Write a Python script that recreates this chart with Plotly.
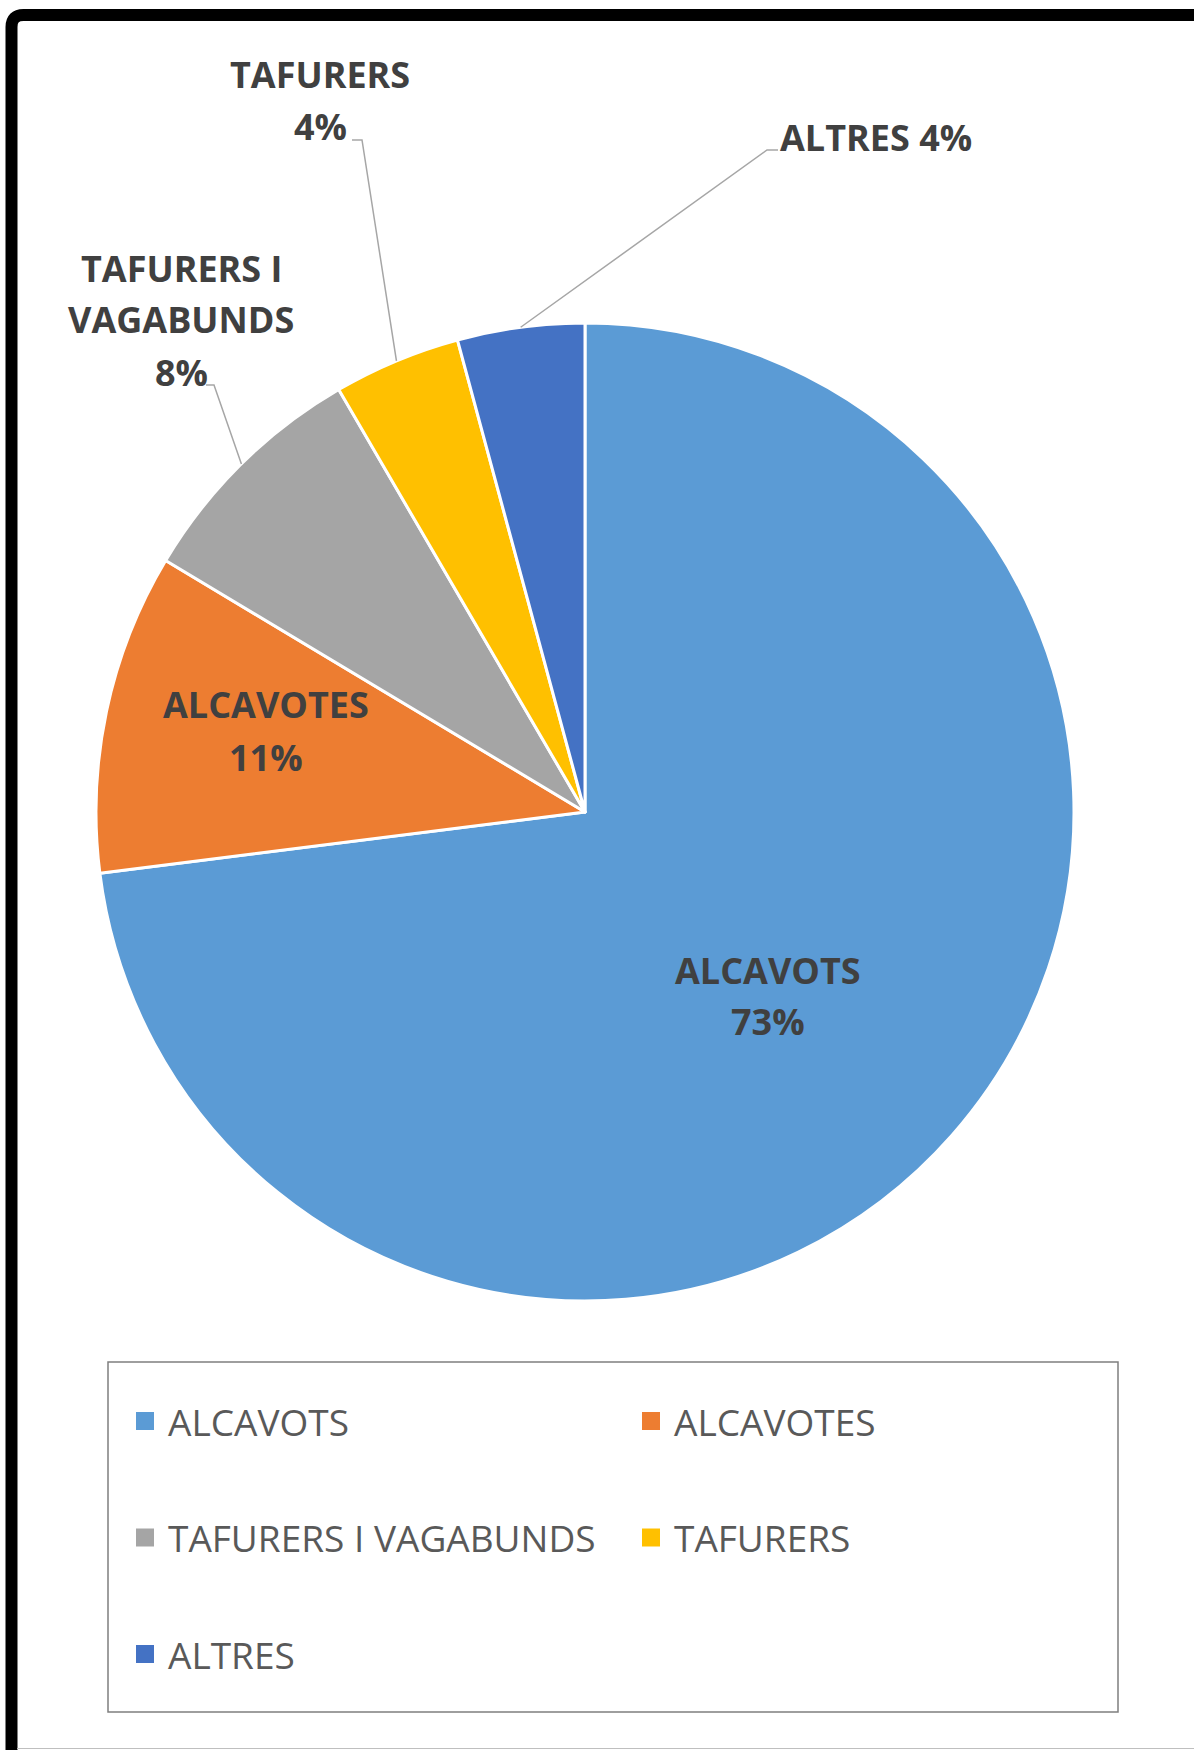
import math
import plotly.graph_objects as go

# ---------------- data ----------------
categories = ["ALCAVOTS", "ALCAVOTES", "TAFURERS I VAGABUNDS", "TAFURERS", "ALTRES"]
values = [73.0, 10.6, 8.0, 4.2, 4.2]
colors = ["#5B9BD5", "#ED7D31", "#A5A5A5", "#FFC000", "#4472C4"]
label_lines = [["ALCAVOTS"], ["ALCAVOTES"], ["TAFURERS I", "VAGABUNDS"], ["TAFURERS"], ["ALTRES"]]
pct_on_same_line = [False, False, False, False, True]

# ---------------- layout constants (pixels) ----------------
W, H = 1194, 1750
CX, CY, R = 585, 812, 489
label_pos = [(768, 996), (266, 731), (181, 320), (320, 101), (876, 138)]
LINE_SP = 52
leader_elbows = {2: [(206, 385), (214, 385)],
                 3: [(352, 140), (362, 140)],
                 4: [(778, 150), (767, 150)]}
FONT = "Open Sans"


def px(x):
    return x / W


def py(y):
    return 1 - y / H


total = sum(values)
pcts = [round(v / total * 100) for v in values]

fig = go.Figure()
fig.add_trace(go.Pie(
    labels=categories,
    values=values,
    sort=False,
    direction="clockwise",
    rotation=0,
    textinfo="none",
    marker=dict(colors=colors, line=dict(color="white", width=3)),
    domain=dict(x=[px(CX - R), px(CX + R)], y=[py(CY + R), py(CY - R)]),
    showlegend=False,
    hovertemplate="%{label}: %{percent}<extra></extra>",
))

annotations = []
shapes = []

# data labels (one annotation per text line for Excel-like line spacing)
for i, name in enumerate(categories):
    x, y = label_pos[i]
    lines = list(label_lines[i])
    if pct_on_same_line[i]:
        lines[-1] = f"{lines[-1]} {pcts[i]}%"
    else:
        lines.append(f"{pcts[i]}%")
    n = len(lines)
    for k, txt in enumerate(lines):
        ly = y + (k - (n - 1) / 2) * LINE_SP
        annotations.append(dict(
            x=px(x), y=py(ly), xref="paper", yref="paper", text=txt,
            showarrow=False, xanchor="center", yanchor="middle", align="center",
            font=dict(family=FONT, size=36, color="#404040", weight="bold"),
        ))

# leader lines: from slice edge (mid angle) to the label elbow
cum = 0.0
for i, v in enumerate(values):
    mid = (cum + v / 2) / total * 2 * math.pi
    cum += v
    if i in leader_elbows:
        ex = CX + R * math.sin(mid)
        ey = CY - R * math.cos(mid)
        (ax, ay), (bx, by) = leader_elbows[i]
        path = f"M {px(ax)},{py(ay)} L {px(bx)},{py(by)} L {px(ex)},{py(ey)}"
        shapes.append(dict(type="path", xref="paper", yref="paper", path=path,
                           line=dict(color="#A6A6A6", width=1.5)))

# legend (manual, built from the category/colour lists)
LEG_X0, LEG_Y0, LEG_X1, LEG_Y1 = 108, 1362, 1118, 1712
shapes.append(dict(type="rect", xref="paper", yref="paper",
                   x0=px(LEG_X0), y0=py(LEG_Y1), x1=px(LEG_X1), y1=py(LEG_Y0),
                   line=dict(color="#7F7F7F", width=1.5), fillcolor="rgba(0,0,0,0)"))
COL_X = [136, 642]
for i, name in enumerate(categories):
    col, row = i % 2, i // 2
    sx = COL_X[col]
    cy = 1421 + row * 116.5
    shapes.append(dict(type="rect", xref="paper", yref="paper",
                       x0=px(sx), x1=px(sx + 18), y0=py(cy + 9), y1=py(cy - 9),
                       fillcolor=colors[i], line=dict(width=0)))
    annotations.append(dict(
        x=px(sx + 30), y=py(cy), xref="paper", yref="paper", text=name,
        showarrow=False, xanchor="left", yanchor="middle",
        font=dict(family=FONT, size=37, color="#595959"),
    ))

# outer frame (thick black, rounded top-left corner)
fx, fy = 11.5, 15
frame = (f"M {px(fx)},{py(H + 40)} L {px(fx)},{py(fy + 12)} "
         f"Q {px(fx)},{py(fy)} {px(fx + 12)},{py(fy)} L {px(W + 40)},{py(fy)}")
shapes.append(dict(type="path", xref="paper", yref="paper", path=frame,
                   line=dict(color="black", width=12)))
shapes.append(dict(type="line", xref="paper", yref="paper",
                   x0=px(17), x1=px(W), y0=py(1748.5), y1=py(1748.5),
                   line=dict(color="#BFBFBF", width=1)))

fig.update_layout(
    width=W, height=H,
    margin=dict(l=0, r=0, t=0, b=0),
    paper_bgcolor="white",
    plot_bgcolor="white",
    annotations=annotations,
    shapes=shapes,
    font=dict(family=FONT),
)

fig.write_html("out.html", config={"displayModeBar": False},
               post_script="document.body.style.margin='0';document.body.style.overflow='hidden';")
